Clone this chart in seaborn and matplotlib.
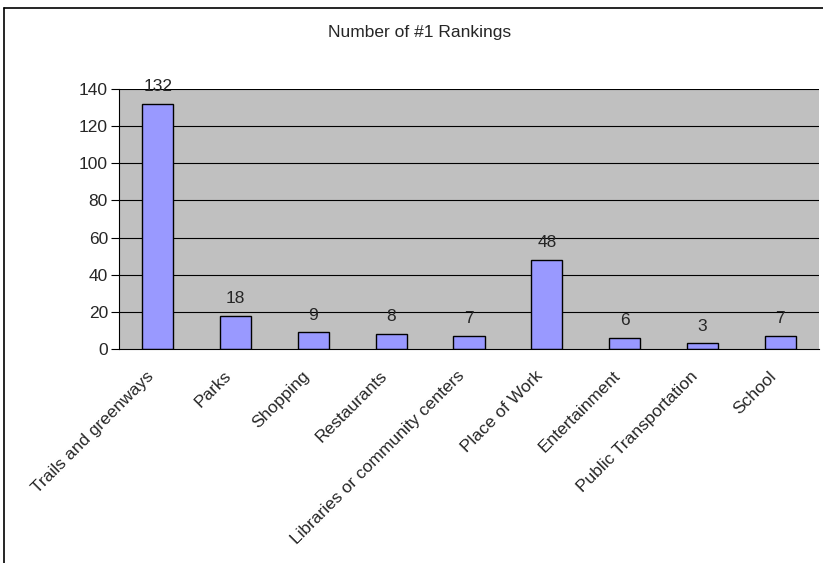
import matplotlib
matplotlib.use("Agg")
import matplotlib.pyplot as plt
import matplotlib.transforms as mtransforms
import seaborn as sns
import pandas as pd
from matplotlib.lines import Line2D

categories = [
    "Trails and greenways",
    "Parks",
    "Shopping",
    "Restaurants",
    "Libraries or community centers",
    "Place of Work",
    "Entertainment",
    "Public Transportation",
    "School",
]
rankings = [132, 18, 9, 8, 7, 48, 6, 3, 7]
y_ticks = [0, 20, 40, 60, 80, 100, 120, 140]

df = pd.DataFrame({"category": categories, "count": rankings})

sns.set_style("white")
plt.rcParams["font.family"] = ["Liberation Sans", "DejaVu Sans"]

fig = plt.figure(figsize=(8.23, 5.63), dpi=100)
ax = fig.add_axes([119 / 823, 1 - 349 / 563, 700 / 823, 260 / 563])
ax.set_facecolor("#C0C0C0")

sns.barplot(data=df, x="category", y="count", color="#9999FF",
            edgecolor="black", linewidth=1, width=0.4, saturation=1, ax=ax)

ax.set_ylim(0, 140)
ax.set_xlim(-0.5, len(categories) - 0.5)
ax.set_yticks(y_ticks)
ax.set_yticklabels([str(t) for t in y_ticks], fontsize=12.5)
for t in y_ticks[1:]:
    ax.axhline(t, color="black", linewidth=0.8, zorder=0.5)

# category separators as ticks on the x axis
ax.set_xticks([i - 0.5 for i in range(len(categories) + 1)], minor=True)
ax.set_xticks(range(len(categories)))
ax.set_xticklabels(categories, rotation=45, ha="right", rotation_mode="anchor", fontsize=12.5)
ax.tick_params(axis="x", which="major", length=0, pad=11)
ax.tick_params(axis="x", which="minor", length=6, width=0.8, color="black", direction="out")
ax.tick_params(axis="y", length=6, width=0.8, color="black", direction="out", left=True, pad=2)

# nudge the rotated labels a little left and down, like the original
shift = mtransforms.ScaledTranslation(-0.12, -0.04, fig.dpi_scale_trans)
for lbl in ax.get_xticklabels():
    lbl.set_transform(lbl.get_transform() + shift)

for side in ["left", "bottom"]:
    ax.spines[side].set_color("black")
    ax.spines[side].set_linewidth(0.8)
ax.spines["top"].set_visible(False)
ax.spines["right"].set_visible(False)

ax.set_xlabel("")
ax.set_ylabel("")

for i, v in enumerate(rankings):
    ax.annotate(str(v), (i, v), xytext=(0, 7), textcoords="offset points",
                ha="center", va="bottom", fontsize=12.5)

fig.text(420 / 823, 1 - 33 / 563, "Number of #1 Rankings", ha="center", va="center", fontsize=12.5)

# outer chart frame (left and top edges visible)
fig.add_artist(Line2D([4 / 823, 4 / 823], [0, 1 - 8 / 563], transform=fig.transFigure,
                      color="black", linewidth=1.2))
fig.add_artist(Line2D([4 / 823, 1], [1 - 8 / 563, 1 - 8 / 563], transform=fig.transFigure,
                      color="black", linewidth=1.2))

fig.savefig("out.png", dpi=100)
